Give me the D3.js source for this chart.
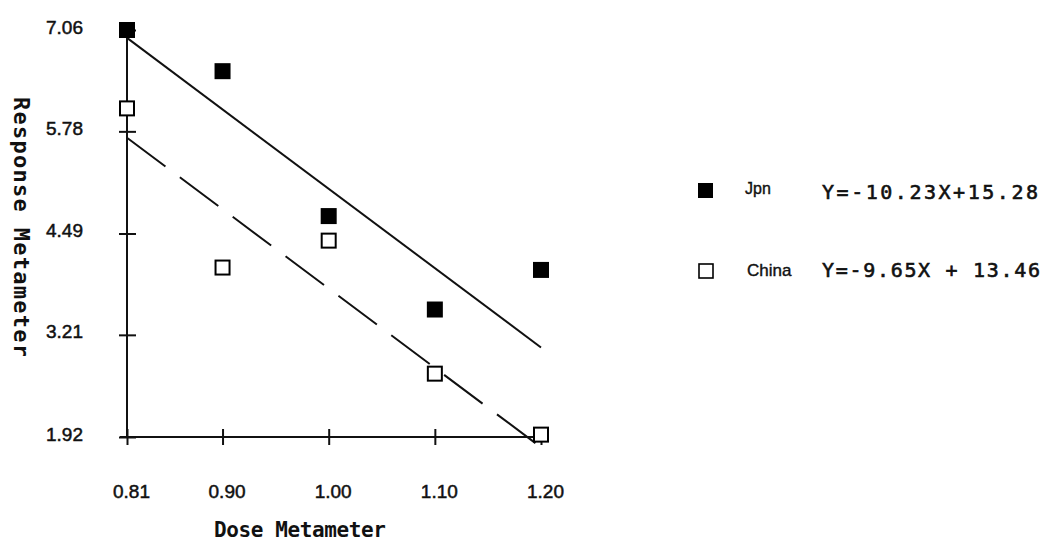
<!DOCTYPE html>
<html>
<head>
<meta charset="utf-8">
<script src="https://cdn.jsdelivr.net/npm/d3@7"></script>
<style>
  body { margin: 0; background: #fff; }
  svg { display: block; }
</style>
</head>
<body>
<svg id="chart"></svg>
<script>
// data
const doses = [0.81, 0.90, 1.00, 1.10, 1.20]
const jpn = [7.06, 6.54, 4.71, 3.53, 4.03]
const china = [6.07, 4.06, 4.40, 2.72, 1.95]
// fitted lines, values at the two ends of the dose range
const fitDoses = [0.81, 1.20]
const jpnFit = [6.96, 3.05]
const chinaFit = [5.70, 1.79]
const yTicks = [1.92, 3.21, 4.49, 5.78, 7.06]
const xTicks = [0.81, 0.90, 1.00, 1.10, 1.20]

const width = 1057, height = 541

const svg = d3.select('#chart')
  .attr('width', width)
  .attr('height', height)

const x = d3.scaleLinear().domain([0.81, 1.20]).range([127, 541])
const y = d3.scaleLinear().domain([1.92, 7.06]).range([437, 30])

const ink = '#111'
const tickFont = '"Liberation Sans", Arial, sans-serif'
const monoFont = '"DejaVu Sans Mono", monospace'

// axis lines
svg.append('line')
  .attr('x1', x(0.81)).attr('x2', x(0.81))
  .attr('y1', y(7.06)).attr('y2', y(1.92))
  .attr('stroke', ink).attr('stroke-width', 2)
svg.append('line')
  .attr('x1', x(0.81) - 7).attr('x2', x(1.20))
  .attr('y1', y(1.92)).attr('y2', y(1.92))
  .attr('stroke', ink).attr('stroke-width', 2)

// y axis ticks + labels (ticks cross the axis line)
const yAxis = svg.append('g')
  .attr('transform', `translate(${x(0.81)},0)`)
  .call(d3.axisLeft(y).tickValues(yTicks).tickFormat(d3.format('.2f')).tickSize(0).tickPadding(44))
yAxis.select('.domain').remove()
yAxis.selectAll('.tick line')
  .attr('x1', -8).attr('x2', 9)
  .attr('stroke', ink).attr('stroke-width', 2)
yAxis.selectAll('.tick text')
  .attr('y', -3)
  .style('font-family', tickFont)
  .style('font-size', '19px')
  .attr('fill', ink).attr('stroke', ink).attr('stroke-width', 0.5)

// x axis ticks + labels
const xAxis = svg.append('g')
  .attr('transform', `translate(0,${y(1.92)})`)
  .call(d3.axisBottom(x).tickValues(xTicks).tickFormat(d3.format('.2f')).tickSize(0))
xAxis.select('.domain').remove()
xAxis.selectAll('.tick line')
  .attr('y1', -8).attr('y2', 8)
  .attr('stroke', ink).attr('stroke-width', 2)
xAxis.selectAll('.tick text')
  .attr('x', 4).attr('y', 61).attr('dy', 0)
  .style('font-family', tickFont)
  .style('font-size', '19px')
  .attr('fill', ink).attr('stroke', ink).attr('stroke-width', 0.5)

// axis titles
svg.append('text')
  .attr('x', 214).attr('y', 537)
  .attr('textLength', 172).attr('lengthAdjust', 'spacing')
  .style('font-family', monoFont)
  .style('font-weight', 'bold')
  .style('font-size', '21px')
  .attr('fill', ink)
  .text('Dose Metameter')

svg.append('text')
  .attr('transform', 'translate(14,97) rotate(90)')
  .attr('textLength', 260).attr('lengthAdjust', 'spacing')
  .style('font-family', monoFont)
  .style('font-weight', 'bold')
  .style('font-size', '22px')
  .attr('fill', ink)
  .text('Response Metameter')

// fitted lines
const line = d3.line().x(d => x(d[0])).y(d => y(d[1]))
svg.append('path')
  .datum(d3.zip(fitDoses, jpnFit))
  .attr('d', line)
  .attr('fill', 'none').attr('stroke', ink).attr('stroke-width', 2)
svg.append('path')
  .datum(d3.zip(fitDoses, chinaFit))
  .attr('d', line)
  .attr('fill', 'none').attr('stroke', ink).attr('stroke-width', 2)
  .attr('stroke-dasharray', '48,18')

// markers
const sz = 16
svg.selectAll('rect.jpn')
  .data(d3.zip(doses, jpn))
  .enter()
  .append('rect')
  .attr('class', 'jpn')
  .attr('x', d => x(d[0]) - sz / 2)
  .attr('y', d => y(d[1]) - sz / 2)
  .attr('width', sz).attr('height', sz)
  .attr('fill', '#000')

svg.selectAll('rect.china')
  .data(d3.zip(doses, china))
  .enter()
  .append('rect')
  .attr('class', 'china')
  .attr('x', d => x(d[0]) - (sz - 2) / 2)
  .attr('y', d => y(d[1]) - (sz - 2) / 2)
  .attr('width', sz - 2).attr('height', sz - 2)
  .attr('fill', '#fff').attr('stroke', '#000').attr('stroke-width', 2)

// legend
const legend = svg.append('g')
legend.append('rect')
  .attr('x', 698).attr('y', 183).attr('width', 15).attr('height', 15)
  .attr('fill', '#000')
legend.append('rect')
  .attr('x', 699).attr('y', 264).attr('width', 14).attr('height', 14)
  .attr('fill', '#fff').attr('stroke', '#000').attr('stroke-width', 1.6)
legend.append('text')
  .attr('x', 745).attr('y', 194)
  .style('font-family', tickFont).style('font-size', '16px')
  .attr('fill', ink).attr('stroke', ink).attr('stroke-width', 0.4)
  .text('Jpn')
legend.append('text')
  .attr('x', 747).attr('y', 276)
  .style('font-family', tickFont).style('font-size', '17px')
  .attr('fill', ink).attr('stroke', ink).attr('stroke-width', 0.4)
  .text('China')
legend.append('text')
  .attr('x', 822).attr('y', 199)
  .attr('textLength', 216).attr('lengthAdjust', 'spacing')
  .style('font-family', monoFont).style('font-size', '20px')
  .attr('fill', ink).attr('stroke', ink).attr('stroke-width', 0.6)
  .text('Y=-10.23X+15.28')
legend.append('text')
  .attr('x', 822).attr('y', 277)
  .attr('textLength', 218).attr('lengthAdjust', 'spacing')
  .style('font-family', monoFont).style('font-size', '20px')
  .attr('fill', ink).attr('stroke', ink).attr('stroke-width', 0.6)
  .text('Y=-9.65X + 13.46')
</script>
</body>
</html>
